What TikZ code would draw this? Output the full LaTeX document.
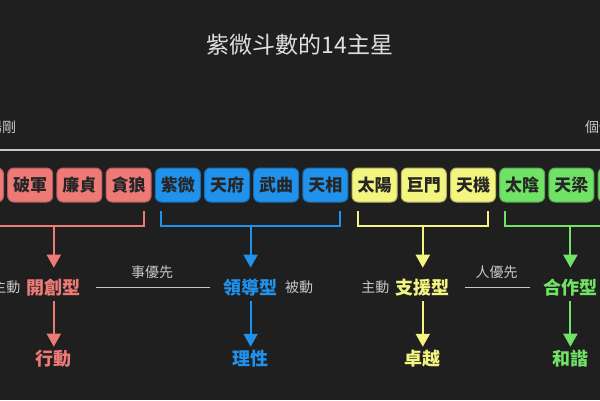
\documentclass[tikz,border=0pt]{standalone}
\usepackage{fontspec}
\setmainfont{Noto Sans CJK TC}
\usepackage{tikz}
\usetikzlibrary{positioning}
\usetikzlibrary{arrows.meta}
\usetikzlibrary{calc}
\definecolor{bgdark}{RGB}{31,31,31}
\definecolor{softgray}{RGB}{200,200,200}
\definecolor{starred}{RGB}{238,122,120}
\definecolor{starblue}{RGB}{32,146,236}
\definecolor{staryellow}{RGB}{244,244,128}
\definecolor{stargreen}{RGB}{112,226,102}
\tikzstyle{starbox}=[rounded corners=6pt,minimum width=45pt,minimum height=34pt,inner sep=0pt,line width=1pt,text=black!85,font=\fontsize{17}{17}\selectfont\bfseries]
\tikzstyle{typelabel}=[inner sep=3pt,font=\fontsize{18}{18}\selectfont\bfseries]
\tikzstyle{sidelabel}=[inner sep=3pt,text=softgray,font=\fontsize{14}{14}\selectfont]
\tikzstyle{bracket} = [draw,line width=2pt]
\tikzstyle{flow} = [draw,line width=2pt,-{Triangle[width=14pt,length=13pt]}]
\tikzstyle{priority} = [draw,line width=1.5pt,softgray,shorten <=12pt,shorten >=10pt]

\begin{document}
\begin{tikzpicture}[x=1pt,y=-1pt]

    \useasboundingbox (0,0) rectangle (600,400);
    \fill[bgdark] (0,0) rectangle (600,400);
    \clip (0,0) rectangle (600,400);

    \def\dx{-19};
    \def\dy{185};

    \node[text=white!88!black, font=\fontsize{23}{23}\selectfont] (title) at (300,45) {紫微斗數的14主星};

    \node[sidelabel] (yang) at (2,127) {陽剛};
    \node[sidelabel] (gexing) at (599,127) {個性};
    \coordinate (L) at (-10,150);
    \coordinate (R) at (610,150);
    \draw[line width=2pt, softgray] (L) -- (R);

    \foreach \x/\name/\col in { 0/七殺/starred, 1/破軍/starred, 2/廉貞/starred, 3/貪狼/starred, 4/紫微/starblue, 5/天府/starblue, 6/武曲/starblue, 7/天相/starblue, 8/太陽/staryellow, 9/巨門/staryellow, 10/天機/staryellow, 11/太陰/stargreen, 12/天梁/stargreen, 13/天同/stargreen}
        \node[starbox, fill=\col, draw=\col!75!black] (S\x) at (\x*49.2+\dx, \dy) {\name};

    \foreach \i/\first/\last/\col/\kind/\trait in { 1/0/3/starred/開創型/行動, 2/4/7/starblue/領導型/理性, 3/8/10/staryellow/支援型/卓越, 4/11/13/stargreen/合作型/和諧}
    {
        \coordinate (G\i) at ($(S\first.south west)!0.5!(S\last.south east) + (-1,23)$);
        \draw[bracket, \col] ([xshift=6pt,yshift=-8pt]S\first.south west) |- (G\i) -| ([xshift=-8pt,yshift=-8pt]S\last.south east);
        \node[typelabel, text=\col] (T\i) at ([yshift=-62pt]G\i) {\kind};
        \node[typelabel, text=\col] (B\i) at ([yshift=-133pt]G\i) {\trait};
        \path[flow, \col, shorten >=8pt] (G\i) -- (T\i);
        \path[flow, \col, shorten <=2pt] (T\i) -- (B\i);
    }

    \node[sidelabel, left=0pt of T1] (active1) {主動};
    \node[sidelabel, right=1pt of T2] (passive2) {被動};
    \node[sidelabel, left=0pt of T3] (active3) {主動};

    \path[priority] (T1) -- node[above=5pt, sidelabel] (things) {事優先} (T2);
    \path[priority] (T3) -- node[above=5pt, sidelabel] (people) {人優先} (T4);

\end{tikzpicture}
\end{document}
